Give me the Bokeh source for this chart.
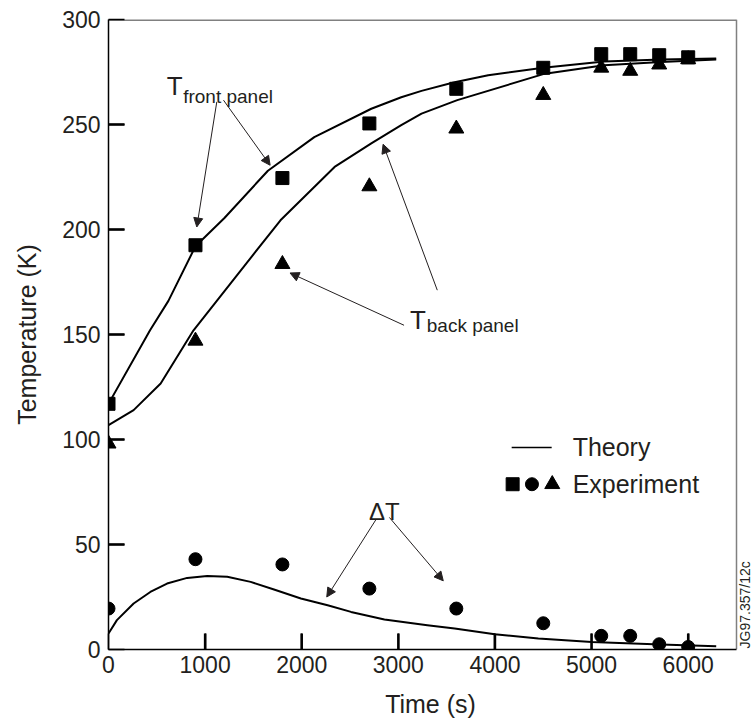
from math import pi
from bokeh.plotting import figure
from bokeh.models import Range1d, Label, Arrow, NormalHead, FixedTicker
from bokeh.embed import file_html
from bokeh.resources import INLINE

FONT = "Liberation Sans"
INK = "#231f20"
BORDER = "#808080"

# ---- experiment (markers) ----
t_exp = [0, 900, 1800, 2700, 3600, 4500, 5100, 5400, 5700, 6000]
T_front_exp = [117, 192.5, 224.5, 250.5, 267, 277, 283.5, 283.5, 283, 282]
T_back_exp = [98, 147, 183.5, 220.5, 248, 264, 277, 275.5, 278.5, 281]
dT_exp = [19.5, 43, 40.5, 29, 19.5, 12.5, 6.5, 6.5, 2.5, 1.2]

# ---- theory (lines) ----
t_front_th = [0, 430, 620, 900, 1200, 1650, 2130, 2720, 3030, 3240, 3570, 3930, 4500, 5130, 5720, 6290]
T_front_th = [117, 152, 166, 192, 205.5, 228, 244, 257.5, 263, 266, 270, 273.5, 277, 280, 281, 281.4]

t_back_th = [0, 260, 540, 880, 1125, 1780, 2340, 2720, 3030, 3240, 3610, 4500, 5130, 5720, 6290]
T_back_th = [106.8, 114, 126.7, 152, 166.3, 204.4, 229.8, 241, 249.7, 255.2, 261.6, 274, 278.2, 279.8, 281]

t_dT_th = [0, 87, 260, 433, 606, 814, 1022, 1229, 1471, 1713, 1991, 2268, 2510, 2856, 3300, 3583, 3998, 4449, 5002, 5715, 6290]
dT_th = [7.6, 14.0, 21.9, 27.4, 31.4, 34.1, 35.0, 34.6, 32.2, 28.6, 24.3, 21.1, 17.9, 14.3, 11.5, 10.0, 7.3, 5.2, 3.6, 2.4, 1.6]

x_ticks = [0, 1000, 2000, 3000, 4000, 5000, 6000]
y_ticks = [0, 50, 100, 150, 200, 250, 300]

X_MAX, Y_MAX = 6500, 300          # boxed plot area
W, H = 752, 724
BL, BT, BB = 108, 19, 75
BOX_W = 628                        # pixel width of the boxed area
BOX_H = H - BT - BB
X_VIEW = X_MAX * (W - BL) / BOX_W  # frame runs to the page edge so the side note fits

p = figure(width=W, height=H, output_backend="svg", toolbar_location=None,
           x_range=Range1d(0, X_VIEW), y_range=Range1d(0, Y_MAX),
           min_border_left=BL, min_border_right=0, min_border_top=BT, min_border_bottom=BB)
p.grid.visible = False
p.background_fill_color = "white"
p.border_fill_color = "white"
p.outline_line_color = None

for ax in (p.xaxis[0], p.yaxis[0]):
    ax.major_tick_in = 16
    ax.major_tick_out = 0
    ax.major_tick_line_color = "black"
    ax.major_tick_line_width = 1.5
    ax.minor_tick_line_color = None
    ax.axis_line_color = "black"
    ax.axis_line_width = 1.5
    ax.major_label_text_font = FONT
    ax.major_label_text_font_size = "23px"
    ax.major_label_text_color = INK
    ax.axis_label_text_font = FONT
    ax.axis_label_text_font_size = "25px"
    ax.axis_label_text_font_style = "normal"
    ax.axis_label_text_color = INK

p.xaxis.bounds = (0, X_MAX)
p.xaxis.ticker = FixedTicker(ticks=x_ticks)
p.yaxis.ticker = FixedTicker(ticks=y_ticks)
p.xaxis.axis_label = "Time (s)"
p.yaxis.axis_label = "Temperature (K)"
p.xaxis.major_label_standoff = 6
p.xaxis.axis_label_standoff = 14
p.yaxis.major_label_standoff = 8
p.yaxis.axis_label_standoff = 18

# grey box: top and right sides
p.segment(x0=[0], y0=[Y_MAX], x1=[X_MAX], y1=[Y_MAX], line_color=BORDER, line_width=3)
p.segment(x0=[X_MAX], y0=[0], x1=[X_MAX], y1=[Y_MAX], line_color=BORDER, line_width=1.5)

# theory lines
for xs, ys in ((t_front_th, T_front_th), (t_back_th, T_back_th), (t_dT_th, dT_th)):
    p.line(xs, ys, line_color="black", line_width=2, line_join="round")

# experiment markers
p.scatter(t_exp, T_front_exp, marker="square", size=13, color="black")
p.scatter(t_exp, T_back_exp, marker="triangle", size=15, color="black")
p.scatter(t_exp, dT_exp, marker="circle", size=13, color="black")

# inward tick marks, 16 px long, from the tick lists (drawn last, on top)
TICK_PX = 16
dx_tick = TICK_PX * X_MAX / BOX_W
dy_tick = TICK_PX * Y_MAX / BOX_H
xt = [t for t in x_ticks if t > 0]
yt = [v for v in y_ticks if 0 < v < Y_MAX]
p.segment(x0=xt, y0=[0] * len(xt), x1=xt, y1=[dy_tick] * len(xt), line_color="black", line_width=2.5)
p.segment(x0=[0] * len(yt), y0=yt, x1=[dx_tick] * len(yt), y1=yt, line_color="black", line_width=2.5)

# annotations
def lab(x, y, text, size, **kw):
    p.add_layout(Label(x=x, y=y, text=text, text_font=FONT, text_font_size=size,
                       text_color=INK, text_baseline=kw.pop("baseline", "alphabetic"),
                       text_align=kw.pop("align", "left"), **kw))

def arrow(x0, y0, x1, y1):
    p.add_layout(Arrow(x_start=x0, y_start=y0, x_end=x1, y_end=y1,
                       line_color=INK, line_width=1,
                       end=NormalHead(size=9, fill_color=INK, line_color=INK, line_width=1)))

lab(604, 268.4, "T", "26px")
lab(773, 263.5, "front panel", "19px")
arrow(1121, 260.8, 914, 201.2)
arrow(1190, 261.6, 1673, 230.6)

lab(3120, 157.1, "T", "26px")
lab(3294, 154.4, "back panel", "19px")
arrow(3059, 154.4, 1879, 179.3)
arrow(3403, 171.1, 2842, 240.6)

lab(2697, 65.5, "\u0394T", "24px")
arrow(2769, 61.9, 2259, 25.0)
arrow(2907, 62.9, 3465, 32.7)

# legend (drawn by hand)
p.line([4173, 4587], [96.2, 96.2], line_color="black", line_width=1.5)
p.scatter([4183], [78.7], marker="square", size=13, color="black")
p.scatter([4383], [78.7], marker="circle", size=13, color="black")
p.scatter([4593], [78.7], marker="triangle", size=15, color="black")
lab(4804, 96.3, "Theory", "25px", baseline="middle")
lab(4804, 78.7, "Experiment", "25px", baseline="middle")

# figure id, vertical, just right of the box
lab(6590, 0.5, "JG97.357/12c", "14px", baseline="middle", angle=pi / 2)

open("out.html", "w").write(file_html(p, INLINE))
